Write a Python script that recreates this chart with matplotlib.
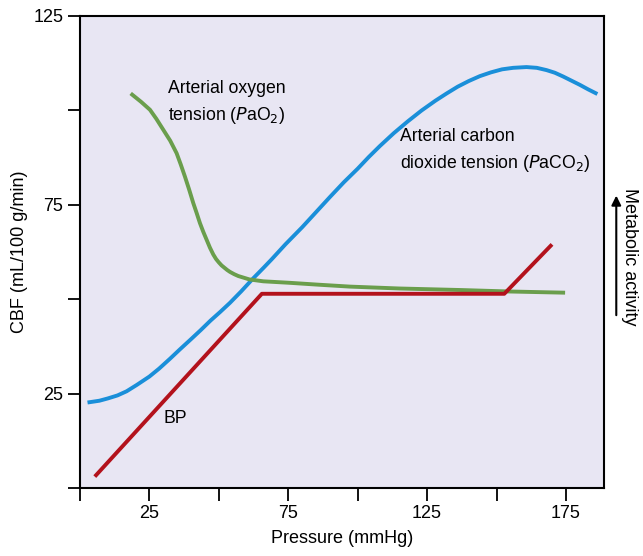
import numpy as np
import matplotlib.pyplot as plt

plt.rcParams['font.family'] = ['Liberation Sans', 'DejaVu Sans']

# BP autoregulation line
bp_x = [5.8, 65.5, 152.8, 169.5]
bp_y = [3.4, 51.4, 51.4, 64.1]

# PaO2 curve
o2_x = [18.8, 22, 25.2, 27.5, 30, 32.5, 34.8, 36.3, 37.8, 39.3, 40.8, 42, 43.2, 44.4,
        45.6, 46.8, 48, 49, 50, 51, 52, 53, 54, 55.5, 57, 61, 66, 75.6,
        86, 97.2, 115, 136.8, 155, 174]
o2_y = [104.1, 102.2, 100.1, 97.7, 94.8, 91.9, 88.6, 85.6, 82.4, 79.0, 75.4, 72.8, 70.1, 67.8,
        65.7, 63.6, 61.8, 60.6, 59.7, 58.9, 58.3, 57.7, 57.2, 56.6, 56.1, 55.2, 54.7, 54.3,
        53.8, 53.3, 52.8, 52.4, 52.0, 51.7]

# PaCO2 curve
co2_x = [3.4, 7, 10, 13.5, 16.8, 20.5, 25, 28.5, 32.4, 36, 40, 43.5, 47, 50.5, 54, 58,
         62.4, 66, 69, 74, 80, 85, 90, 95, 100, 104, 108, 113, 118, 123, 128, 132,
         136, 140, 144, 148, 152, 156, 160.8, 164.5, 168, 171, 174, 177, 180, 183, 185.7]
co2_y = [22.7, 23.1, 23.7, 24.5, 25.6, 27.3, 29.5, 31.6, 34.2, 36.7, 39.4, 41.8, 44.3, 46.6, 49.0, 52.0,
         55.5, 58.2, 60.5, 64.5, 69.0, 73.0, 77.0, 80.9, 84.5, 87.6, 90.5, 93.9, 97.0, 99.9, 102.5, 104.4,
         106.2, 107.7, 109.0, 110.0, 110.8, 111.2, 111.4, 111.2, 110.6, 109.9, 108.9, 107.8, 106.7, 105.5, 104.5]

xticks = [0, 25, 50, 75, 100, 125, 150, 175]
xlabels = ['', '25', '', '75', '', '125', '', '175']
yticks = [0, 25, 50, 75, 100, 125]
ylabels = ['', '25', '', '75', '', '125']

fig = plt.figure(figsize=(6.43, 5.56), dpi=100)
ax = fig.add_axes([0.1244, 0.1223, 0.8149, 0.8495])
ax.set_facecolor('#E8E6F3')

ax.plot(co2_x, co2_y, color='#1A8FD9', lw=2.8, solid_joinstyle='round')
ax.plot(o2_x, o2_y, color='#6A9E4C', lw=2.8, solid_joinstyle='round')
ax.plot(bp_x, bp_y, color='#B3121C', lw=2.8)

ax.set_xlim(0, 188.7)
ax.set_ylim(0, 125)
ax.set_xticks(xticks)
ax.set_xticklabels(xlabels)
ax.set_yticks(yticks)
ax.set_yticklabels(ylabels)
ax.tick_params(direction='out', length=9, width=1.3, labelsize=13, pad=3)
for s in ax.spines.values():
    s.set_linewidth(1.5)

ax.set_xlabel('Pressure (mmHg)', fontsize=13, labelpad=6)
ax.set_ylabel('CBF (mL/100 g/min)', fontsize=13, labelpad=4)

ax.text(31.7, 105.6, 'Arterial oxygen', fontsize=12.7, va='center')
ax.text(31.7, 98.6, r'tension ($\mathit{P}$aO$_2$)', fontsize=12.7, va='center')
ax.text(115.2, 93, 'Arterial carbon', fontsize=12.7, va='center')
ax.text(115.2, 86, r'dioxide tension ($\mathit{P}$aCO$_2$)', fontsize=12.7, va='center')
ax.text(29.9, 18.5, 'BP', fontsize=12.7, va='center')

ax.annotate('', xy=(1.0235, 0.625), xytext=(1.0235, 0.36), xycoords='axes fraction',
            arrowprops=dict(arrowstyle='-|>', color='black', lw=1.5, mutation_scale=14))
ax.text(1.048, 0.49, 'Metabolic activity', transform=ax.transAxes, rotation=-90,
        fontsize=13, va='center', ha='center')

fig.savefig('out.png', dpi=100)
